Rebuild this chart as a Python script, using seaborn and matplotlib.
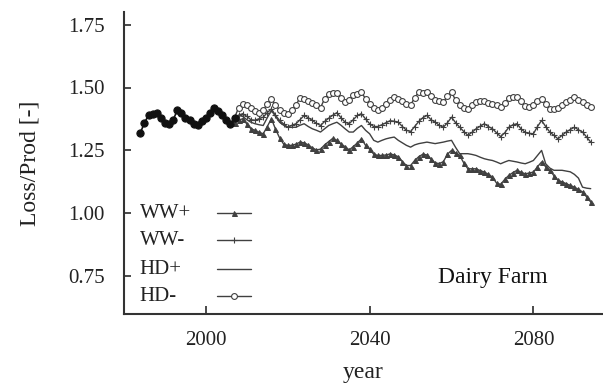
import matplotlib
matplotlib.use("Agg")
import matplotlib.pyplot as plt
import seaborn as sns
import pandas as pd
from matplotlib.lines import Line2D

hist_years = list(range(1984, 2008))
hist_vals = [1.32, 1.36, 1.39, 1.395, 1.40, 1.38, 1.36, 1.355, 1.37, 1.41,
             1.40, 1.38, 1.37, 1.355, 1.35, 1.365, 1.38, 1.40, 1.42, 1.405,
             1.39, 1.37, 1.355, 1.38]

scen_years = list(range(2007, 2095))
hd_minus = [1.38, 1.42, 1.435, 1.43, 1.42, 1.405, 1.40, 1.41, 1.435, 1.455,
            1.43, 1.41, 1.40, 1.395, 1.41, 1.43, 1.46, 1.455, 1.448, 1.44,
            1.43, 1.42, 1.455, 1.475, 1.478, 1.48, 1.46, 1.442, 1.45, 1.47,
            1.475, 1.481, 1.455, 1.435, 1.42, 1.41, 1.42, 1.435, 1.45, 1.462,
            1.455, 1.445, 1.435, 1.43, 1.46, 1.481, 1.478, 1.481, 1.465, 1.45,
            1.445, 1.442, 1.465, 1.481, 1.45, 1.43, 1.42, 1.415, 1.43, 1.442,
            1.445, 1.448, 1.44, 1.435, 1.43, 1.422, 1.44, 1.458, 1.462, 1.462,
            1.445, 1.425, 1.422, 1.43, 1.445, 1.455, 1.435, 1.415, 1.415, 1.418,
            1.43, 1.442, 1.452, 1.462, 1.452, 1.442, 1.432, 1.422]
ww_minus = [1.38, 1.39, 1.396, 1.385, 1.372, 1.37, 1.376, 1.382, 1.40, 1.415,
            1.39, 1.369, 1.355, 1.342, 1.35, 1.356, 1.372, 1.389, 1.38, 1.369,
            1.358, 1.349, 1.365, 1.378, 1.39, 1.40, 1.38, 1.362, 1.356, 1.372,
            1.389, 1.396, 1.375, 1.356, 1.345, 1.345, 1.352, 1.36, 1.368, 1.366,
            1.362, 1.345, 1.33, 1.325, 1.345, 1.365, 1.38, 1.389, 1.372, 1.362,
            1.35, 1.342, 1.36, 1.382, 1.36, 1.342, 1.325, 1.31, 1.322, 1.336,
            1.346, 1.356, 1.345, 1.336, 1.32, 1.305, 1.32, 1.342, 1.352, 1.356,
            1.335, 1.322, 1.318, 1.316, 1.345, 1.369, 1.345, 1.323, 1.31, 1.296,
            1.31, 1.323, 1.333, 1.342, 1.332, 1.323, 1.303, 1.283]
hd_plus = [1.38, 1.389, 1.385, 1.372, 1.362, 1.356, 1.352, 1.349, 1.38, 1.409,
           1.385, 1.362, 1.35, 1.342, 1.342, 1.342, 1.35, 1.356, 1.345, 1.336,
           1.33, 1.323, 1.336, 1.349, 1.356, 1.362, 1.35, 1.336, 1.323, 1.323,
           1.338, 1.349, 1.33, 1.316, 1.29, 1.283, 1.29, 1.296, 1.30, 1.303,
           1.29, 1.28, 1.27, 1.263, 1.272, 1.277, 1.28, 1.283, 1.28, 1.277,
           1.28, 1.283, 1.287, 1.29, 1.262, 1.237, 1.237, 1.237, 1.234, 1.23,
           1.223, 1.217, 1.213, 1.21, 1.204, 1.197, 1.204, 1.21, 1.207, 1.204,
           1.2, 1.197, 1.203, 1.21, 1.23, 1.25, 1.197, 1.18, 1.171, 1.171,
           1.171, 1.168, 1.165, 1.155, 1.14, 1.104, 1.10, 1.098]
ww_plus = [1.36, 1.37, 1.376, 1.355, 1.336, 1.33, 1.322, 1.316, 1.345, 1.376,
           1.335, 1.30, 1.275, 1.27, 1.27, 1.275, 1.283, 1.28, 1.272, 1.26,
           1.252, 1.255, 1.272, 1.285, 1.298, 1.29, 1.275, 1.265, 1.252, 1.265,
           1.28, 1.296, 1.27, 1.255, 1.235, 1.23, 1.23, 1.232, 1.236, 1.232,
           1.225, 1.205, 1.19, 1.19, 1.21, 1.225, 1.235, 1.232, 1.215, 1.2,
           1.198, 1.205, 1.235, 1.25, 1.24, 1.23, 1.2, 1.177, 1.177, 1.177,
           1.17, 1.164, 1.155, 1.144, 1.12, 1.115, 1.135, 1.151, 1.162, 1.171,
           1.163, 1.157, 1.16, 1.164, 1.185, 1.204, 1.185, 1.171, 1.15, 1.131,
           1.125, 1.118, 1.111, 1.104, 1.095, 1.085, 1.065, 1.045]

labels = ["WW+", "WW-", "HD+", "HD-"]
yticks = [0.75, 1.00, 1.25, 1.50, 1.75]
xticks = [2000, 2040, 2080]

sns.set_theme(style="ticks")
plt.rcParams['font.family'] = ['Liberation Serif', 'DejaVu Serif']

fig = plt.figure(figsize=(6.03, 3.86), dpi=100)
ax = fig.add_axes([124/603, 1-314/386, 1-124/603, (314-12)/386])

col = "#404040"
styles = {
    "WW+": dict(marker="^", ms=3.6, mfc=col, mec=col, mew=0.7),
    "WW-": dict(marker="+", ms=4.5, mfc=col, mec=col, mew=0.8),
    "HD+": dict(marker=None),
    "HD-": dict(marker="o", ms=4.2, mfc="white", mec=col, mew=0.8),
}
series = {"WW+": ww_plus, "WW-": ww_minus, "HD+": hd_plus, "HD-": hd_minus}

draw_order = ["WW+", "HD+", "WW-", "HD-"]
for name in draw_order:
    df = pd.DataFrame({"year": scen_years, "val": series[name]})
    sns.lineplot(data=df, x="year", y="val", ax=ax, color=col, lw=1.0,
                 **styles[name])

dfh = pd.DataFrame({"year": hist_years, "val": hist_vals})
sns.lineplot(data=dfh, x="year", y="val", ax=ax, color="#111111", lw=1.2,
             marker="o", ms=5.2, mfc="#111111", mec="#111111")

ax.set_xlim(1980, 2097)
ax.set_ylim(0.6, 1.8)
ax.set_xticks(xticks)
ax.set_yticks(yticks)
ax.set_yticklabels([f"{v:.2f}" for v in yticks])
ax.tick_params(axis="both", direction="in", labelsize=15, color="#333333",
               labelcolor="#222222")
ax.tick_params(axis="x", length=6, pad=12)
ax.tick_params(axis="y", length=5, pad=14)
for s in ["top", "right"]:
    ax.spines[s].set_visible(False)
for s in ["left", "bottom"]:
    ax.spines[s].set_linewidth(1.5)
    ax.spines[s].set_color("#333333")

ax.set_xlabel("year", fontsize=17, color="#222222", labelpad=9)
ax.set_ylabel("Loss/Prod [-]", fontsize=17, color="#222222", labelpad=20)

ax.text(2070, 0.745, "Dairy Farm", fontsize=17, ha="center", va="center",
        color="#111111")

# legend: labels left-aligned, handle on the right
row_y = [0.334, 0.245, 0.149, 0.059]
for name, ry in zip(labels, row_y):
    ax.text(0.033, ry, name, transform=ax.transAxes, fontsize=15,
            ha="left", va="center", color="#222222")
    kw = dict(styles[name])
    h = Line2D([0.194, 0.2295, 0.265], [ry, ry, ry], transform=ax.transAxes,
               color=col, lw=1.0, markevery=[1], **kw)
    ax.add_line(h)

fig.savefig("out.png", dpi=100)
